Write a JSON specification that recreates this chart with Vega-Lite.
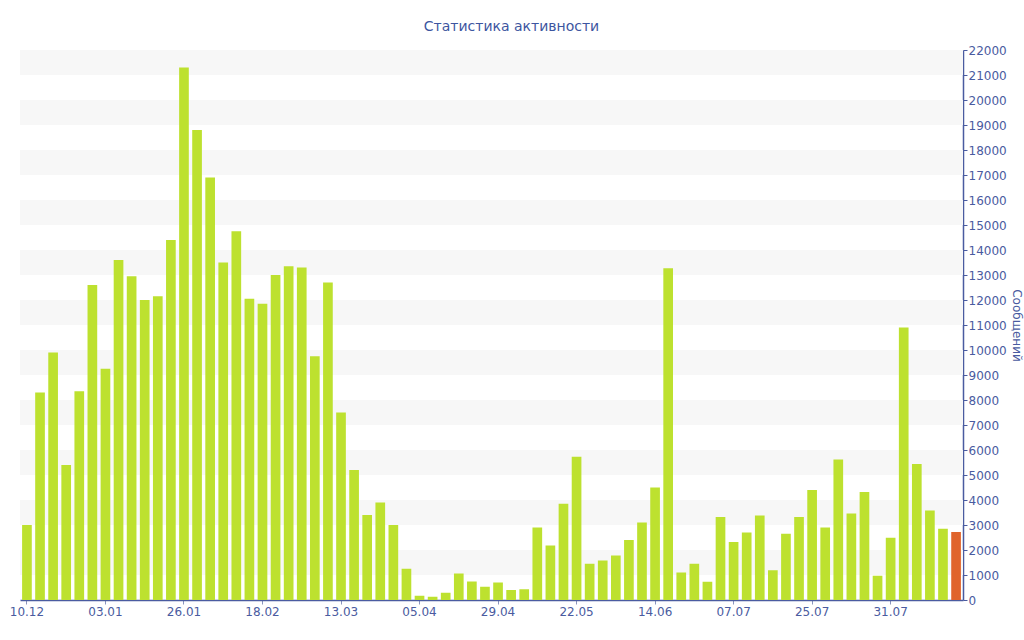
{
  "$schema": "https://vega.github.io/schema/vega-lite/v6.json",
  "width": 943,
  "height": 550,
  "autosize": {"type": "none"},
  "padding": {"left": 20, "top": 50, "right": 61, "bottom": 40},
  "background": "white",
  "title": {
    "text": "Статистика активности",
    "font": "DejaVu Sans",
    "fontSize": 14,
    "fontWeight": "normal",
    "color": "#3d55a0",
    "anchor": "middle",
    "frame": "group",
    "dx": 20,
    "offset": 10
  },
  "datasets": {
    "bars": [
      {"i": 1, "v": 3000, "t": "past"},
      {"i": 2, "v": 8300, "t": "past"},
      {"i": 3, "v": 9900, "t": "past"},
      {"i": 4, "v": 5400, "t": "past"},
      {"i": 5, "v": 8350, "t": "past"},
      {"i": 6, "v": 12600, "t": "past"},
      {"i": 7, "v": 9250, "t": "past"},
      {"i": 8, "v": 13600, "t": "past"},
      {"i": 9, "v": 12950, "t": "past"},
      {"i": 10, "v": 12000, "t": "past"},
      {"i": 11, "v": 12150, "t": "past"},
      {"i": 12, "v": 14400, "t": "past"},
      {"i": 13, "v": 21300, "t": "past"},
      {"i": 14, "v": 18800, "t": "past"},
      {"i": 15, "v": 16900, "t": "past"},
      {"i": 16, "v": 13500, "t": "past"},
      {"i": 17, "v": 14750, "t": "past"},
      {"i": 18, "v": 12050, "t": "past"},
      {"i": 19, "v": 11850, "t": "past"},
      {"i": 20, "v": 13000, "t": "past"},
      {"i": 21, "v": 13350, "t": "past"},
      {"i": 22, "v": 13300, "t": "past"},
      {"i": 23, "v": 9750, "t": "past"},
      {"i": 24, "v": 12700, "t": "past"},
      {"i": 25, "v": 7500, "t": "past"},
      {"i": 26, "v": 5200, "t": "past"},
      {"i": 27, "v": 3400, "t": "past"},
      {"i": 28, "v": 3900, "t": "past"},
      {"i": 29, "v": 3000, "t": "past"},
      {"i": 30, "v": 1250, "t": "past"},
      {"i": 31, "v": 170, "t": "past"},
      {"i": 32, "v": 130, "t": "past"},
      {"i": 33, "v": 290, "t": "past"},
      {"i": 34, "v": 1060, "t": "past"},
      {"i": 35, "v": 740, "t": "past"},
      {"i": 36, "v": 530, "t": "past"},
      {"i": 37, "v": 700, "t": "past"},
      {"i": 38, "v": 400, "t": "past"},
      {"i": 39, "v": 430, "t": "past"},
      {"i": 40, "v": 2900, "t": "past"},
      {"i": 41, "v": 2180, "t": "past"},
      {"i": 42, "v": 3850, "t": "past"},
      {"i": 43, "v": 5730, "t": "past"},
      {"i": 44, "v": 1450, "t": "past"},
      {"i": 45, "v": 1580, "t": "past"},
      {"i": 46, "v": 1780, "t": "past"},
      {"i": 47, "v": 2400, "t": "past"},
      {"i": 48, "v": 3100, "t": "past"},
      {"i": 49, "v": 4500, "t": "past"},
      {"i": 50, "v": 13270, "t": "past"},
      {"i": 51, "v": 1100, "t": "past"},
      {"i": 52, "v": 1450, "t": "past"},
      {"i": 53, "v": 730, "t": "past"},
      {"i": 54, "v": 3320, "t": "past"},
      {"i": 55, "v": 2320, "t": "past"},
      {"i": 56, "v": 2700, "t": "past"},
      {"i": 57, "v": 3380, "t": "past"},
      {"i": 58, "v": 1190, "t": "past"},
      {"i": 59, "v": 2650, "t": "past"},
      {"i": 60, "v": 3320, "t": "past"},
      {"i": 61, "v": 4400, "t": "past"},
      {"i": 62, "v": 2900, "t": "past"},
      {"i": 63, "v": 5620, "t": "past"},
      {"i": 64, "v": 3460, "t": "past"},
      {"i": 65, "v": 4320, "t": "past"},
      {"i": 66, "v": 970, "t": "past"},
      {"i": 67, "v": 2490, "t": "past"},
      {"i": 68, "v": 10900, "t": "past"},
      {"i": 69, "v": 5440, "t": "past"},
      {"i": 70, "v": 3580, "t": "past"},
      {"i": 71, "v": 2850, "t": "past"},
      {"i": 72, "v": 2720, "t": "current"}
    ],
    "bands": [
      {"lo": 1000, "hi": 2000},
      {"lo": 3000, "hi": 4000},
      {"lo": 5000, "hi": 6000},
      {"lo": 7000, "hi": 8000},
      {"lo": 9000, "hi": 10000},
      {"lo": 11000, "hi": 12000},
      {"lo": 13000, "hi": 14000},
      {"lo": 15000, "hi": 16000},
      {"lo": 17000, "hi": 18000},
      {"lo": 19000, "hi": 20000},
      {"lo": 21000, "hi": 22000}
    ]
  },
  "resolve": {"axis": {"y": "independent"}},
  "layer": [
    {
      "data": {"name": "bands"},
      "mark": {"type": "rect", "color": "#f7f7f7"},
      "encoding": {
        "y": {
          "field": "lo",
          "type": "quantitative",
          "scale": {"domain": [0, 22000], "nice": false},
          "axis": null
        },
        "y2": {"field": "hi"}
      }
    },
    {
      "data": {"name": "bars"},
      "mark": {"type": "bar"},
      "encoding": {
        "x": {
          "field": "i",
          "type": "ordinal",
          "scale": {"paddingInner": 0.26, "paddingOuter": 0.16},
          "axis": {
            "title": null,
            "values": [1, 7, 13, 19, 25, 31, 37, 43, 49, 55, 61, 67],
            "labelExpr": "{'1':'10.12','7':'03.01','13':'26.01','19':'18.02','25':'13.03','31':'05.04','37':'29.04','43':'22.05','49':'14.06','55':'07.07','61':'25.07','67':'31.07'}[datum.value]",
            "labelAngle": 0,
            "labelFont": "DejaVu Sans",
            "labelFontSize": 12,
            "labelColor": "#4a5ba0",
            "labelPadding": 2,
            "domainColor": "#4a5ba0",
            "domainWidth": 1.5,
            "tickColor": "#8a94bd",
            "tickSize": 4,
            "grid": false
          }
        },
        "y": {
          "field": "v",
          "type": "quantitative",
          "title": "Сообщений",
          "scale": {"domain": [0, 22000], "nice": false},
          "axis": {
            "orient": "right",
            "values": [0, 1000, 2000, 3000, 4000, 5000, 6000, 7000, 8000, 9000, 10000, 11000, 12000, 13000, 14000, 15000, 16000, 17000, 18000, 19000, 20000, 21000, 22000],
            "format": "d",
            "grid": false,
            "labelOverlap": false,
            "labelFont": "DejaVu Sans",
            "labelFontSize": 12,
            "labelColor": "#4a5ba0",
            "labelPadding": 1,
            "domainColor": "#4a5ba0",
            "domainWidth": 1.5,
            "tickColor": "#4a5ba0",
            "tickSize": 4,
            "titleFont": "DejaVu Sans",
            "titleFontSize": 12,
            "titleFontWeight": "normal",
            "titleColor": "#4a5ba0",
            "titlePadding": 3
          }
        },
        "color": {
          "field": "t",
          "type": "nominal",
          "scale": {"domain": ["past", "current"], "range": ["#bde12f", "#e0642c"]},
          "legend": null
        }
      }
    }
  ],
  "config": {"view": {"stroke": null}, "axisY": {"labelOverlap": false}}
}
